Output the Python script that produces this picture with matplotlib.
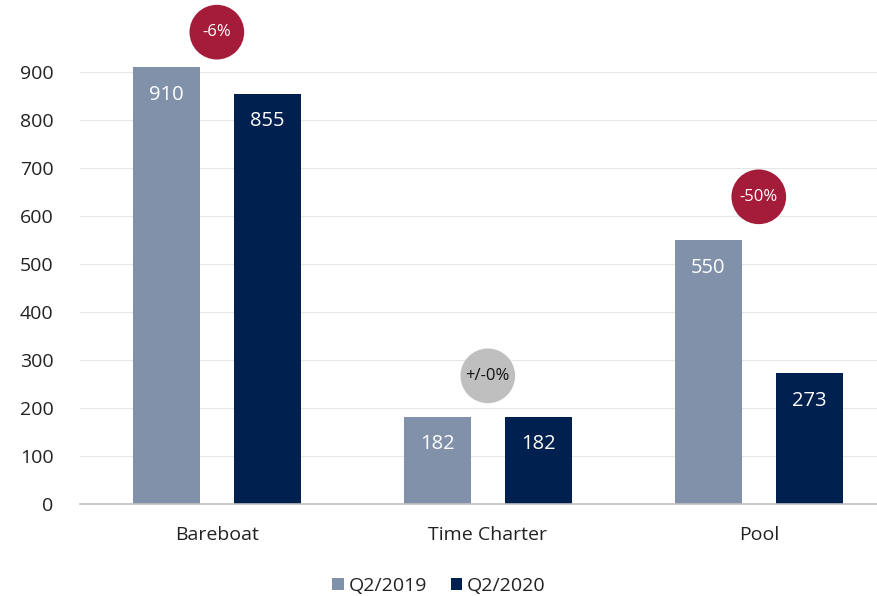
import matplotlib
matplotlib.use("Agg")
import matplotlib.pyplot as plt
import numpy as np

categories = ["Bareboat", "Time Charter", "Pool"]
q2_2019 = [910, 182, 550]
q2_2020 = [855, 182, 273]
changes = ["-6%", "+/-0%", "-50%"]
change_y = [983, 267, 640]
change_colors = ["#A51C3A", "#BFBFBF", "#A51C3A"]
change_text = ["white", "#111111", "white"]

C19 = "#8191AA"
C20 = "#002050"

plt.rcParams["font.family"] = ["Open Sans", "DejaVu Sans"]

fig = plt.figure(figsize=(8.78, 5.96), dpi=100)
ax = fig.add_axes([80 / 878, 1 - 504 / 596, 1 - 80 / 878, 480 / 596])

x = np.arange(len(categories))
w = 0.247
off = 0.186
b1 = ax.bar(x - off, q2_2019, w, color=C19, label="Q2/2019", zorder=2)
b2 = ax.bar(x + off, q2_2020, w, color=C20, label="Q2/2020", zorder=2)

for bars in (b1, b2):
    for b in bars:
        h = b.get_height()
        ax.annotate(f"{h:.0f}", (b.get_x() + b.get_width() / 2, h),
                    xytext=(0, -20), textcoords="offset points",
                    ha="center", va="center", fontsize=14.5, color="white", zorder=3)

ax.scatter(x, change_y, s=1550, c=change_colors, zorder=4, clip_on=False, linewidths=0)
for xi, yi, t, tc in zip(x, change_y, changes, change_text):
    ax.text(xi, yi, t, ha="center", va="center", fontsize=12, color=tc, zorder=5)

ax.set_xlim(-0.505, 2.44)
ax.set_ylim(0, 1000)
ax.set_yticks(np.arange(0, 1000, 100))
ax.tick_params(axis="y", length=0, labelsize=14, colors="#222222", pad=19)
ax.tick_params(axis="x", length=0, labelsize=14, colors="#222222", pad=16)
ax.set_xticks(x)
ax.set_xticklabels(categories)

ax.grid(axis="y", color="#E6E6E6", linewidth=0.8, zorder=0)
ax.set_axisbelow(True)
for s in ("top", "right", "left"):
    ax.spines[s].set_visible(False)
ax.spines["bottom"].set_color("#BFBFBF")
ax.spines["bottom"].set_linewidth(1.2)

leg = fig.legend(handles=[b1, b2], loc="center", bbox_to_anchor=(0.5, 1 - 586 / 596),
                 ncol=2, frameon=False, fontsize=14, handlelength=0.6, handleheight=0.6,
                 handletextpad=0.25, columnspacing=1.2)
for t in leg.get_texts():
    t.set_color("#222222")

fig.savefig("out.png", dpi=100)
